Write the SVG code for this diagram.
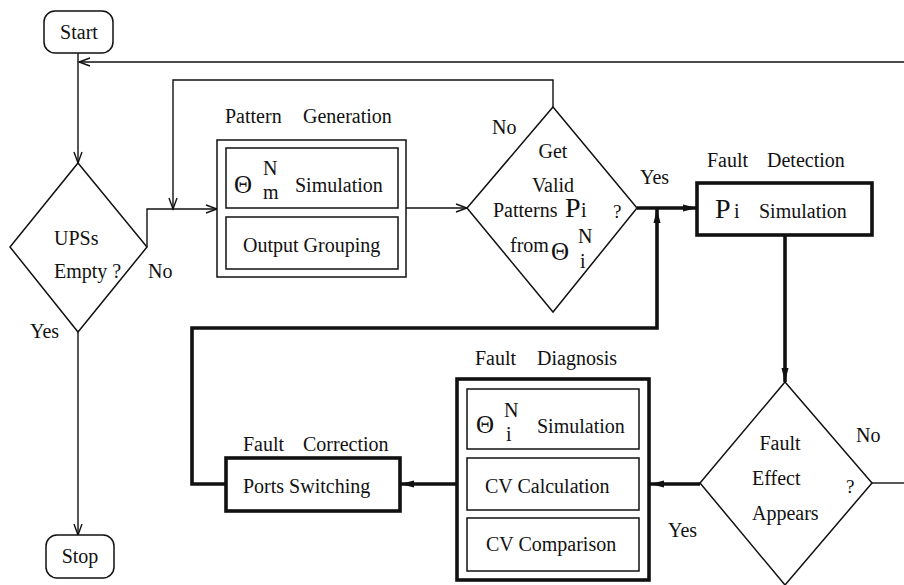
<svg xmlns="http://www.w3.org/2000/svg" width="904" height="585" viewBox="0 0 904 585">
<style>
text { font-family: "Liberation Serif", "Times New Roman", serif; font-size: 20px; fill: #111; }
.big { font-size: 28px; }
.th { font-size: 25px; }
.sm { font-size: 19px; }
.box { fill: #fff; stroke: #111; stroke-width: 1.5; }
.tbox { fill: #fff; stroke: #111; stroke-width: 3.6; }
.con { fill: none; stroke: #111; stroke-width: 1.4; }
.tcon { fill: none; stroke: #111; stroke-width: 3.6; }
</style>
<defs>
<marker id="open" markerUnits="userSpaceOnUse" markerWidth="14" markerHeight="12" refX="12" refY="5" orient="auto">
<path d="M1,1 L12,5 L1,9" fill="none" stroke="#111" stroke-width="1.4"/>
</marker>
<marker id="solid" markerUnits="userSpaceOnUse" markerWidth="16" markerHeight="12" refX="14" refY="5" orient="auto">
<path d="M0,1.5 L14,5 L0,8.5 Z" fill="#111"/>
</marker>
</defs>

<g id="connectors">
<path class="con" d="M78,53 V163" marker-end="url(#open)"/>
<path class="con" d="M904,62 H79" marker-end="url(#open)"/>
<path class="con" d="M147,247 V209 H217" marker-end="url(#open)"/>
<path class="con" d="M553,107 V80 H173 V209" marker-end="url(#open)"/>
<path class="con" d="M406,208 H467" marker-end="url(#open)"/>
<path class="con" d="M78,332 V535" marker-end="url(#open)"/>
<path class="con" d="M872,483 H904"/>
<path class="tcon" d="M637,208 H697" marker-end="url(#solid)"/>
<path class="tcon" d="M785,235 V382" marker-end="url(#solid)"/>
<path class="tcon" d="M700,484 H650" marker-end="url(#solid)"/>
<path class="tcon" d="M457,484 H400" marker-end="url(#solid)"/>
<path class="tcon" d="M226,484 H192 V328 H657 V209" marker-end="url(#solid)"/>
</g>

<g id="start">
<rect x="44" y="11" width="69" height="42" rx="11" class="box"/>
<text x="79" y="39" text-anchor="middle">Start</text>
</g>

<g id="stop">
<rect x="46" y="535" width="68" height="43" rx="11" class="box"/>
<text x="80" y="563" text-anchor="middle">Stop</text>
</g>

<g id="ups-empty">
<polygon points="78,163 147,247 78,332 10,247" class="box"/>
<text x="54" y="245">UPSs</text>
<text x="54" y="278">Empty ?</text>
<text x="148" y="278">No</text>
<text x="30" y="338">Yes</text>
</g>

<g id="pattern-generation">
<text x="225" y="123">Pattern</text>
<text x="303" y="123">Generation</text>
<rect x="217" y="140" width="189" height="137" class="box"/>
<rect x="226" y="148" width="172" height="60" class="box"/>
<rect x="226" y="217" width="172" height="52" class="box"/>
<text x="234" y="193" class="th">Θ</text>
<text x="263" y="175">N</text>
<text x="263" y="199">m</text>
<text x="295" y="192">Simulation</text>
<text x="243" y="252">Output Grouping</text>
</g>

<g id="get-valid-patterns">
<polygon points="553,107 637,208 553,312 467,208" class="box"/>
<text x="492" y="134">No</text>
<text x="553" y="158" text-anchor="middle">Get</text>
<text x="553" y="192" text-anchor="middle">Valid</text>
<text x="493" y="217">Patterns</text>
<text x="565" y="217" class="big">P</text>
<text x="581" y="217">i</text>
<text x="613" y="218" class="sm">?</text>
<text x="510" y="252">from</text>
<text x="551" y="260" class="th">Θ</text>
<text x="578" y="243">N</text>
<text x="580" y="268">i</text>
<text x="640" y="184">Yes</text>
</g>

<g id="fault-detection">
<text x="707" y="167">Fault</text>
<text x="767" y="167">Detection</text>
<rect x="697" y="183" width="175" height="52" class="tbox"/>
<text x="715" y="218" class="big">P</text>
<text x="734" y="218">i</text>
<text x="759" y="218">Simulation</text>
</g>

<g id="fault-effect">
<polygon points="785,382 872,483 785,585 700,483" class="box"/>
<text x="780" y="450" text-anchor="middle">Fault</text>
<text x="752" y="485">Effect</text>
<text x="752" y="520">Appears</text>
<text x="846" y="493" class="sm">?</text>
<text x="856" y="442">No</text>
<text x="668" y="537">Yes</text>
</g>

<g id="fault-diagnosis">
<text x="475" y="365">Fault</text>
<text x="537" y="365">Diagnosis</text>
<rect x="457" y="379" width="192" height="201" class="tbox"/>
<rect x="467" y="389" width="172" height="60" class="box"/>
<rect x="467" y="458" width="172" height="52" class="box"/>
<rect x="467" y="518" width="172" height="53" class="box"/>
<text x="476" y="433" class="th">Θ</text>
<text x="504" y="417">N</text>
<text x="506" y="441">i</text>
<text x="537" y="433">Simulation</text>
<text x="485" y="493">CV Calculation</text>
<text x="486" y="551">CV Comparison</text>
</g>

<g id="fault-correction">
<text x="243" y="451">Fault</text>
<text x="303" y="451">Correction</text>
<rect x="226" y="458" width="174" height="53" class="tbox"/>
<text x="243" y="493">Ports Switching</text>
</g>
</svg>
